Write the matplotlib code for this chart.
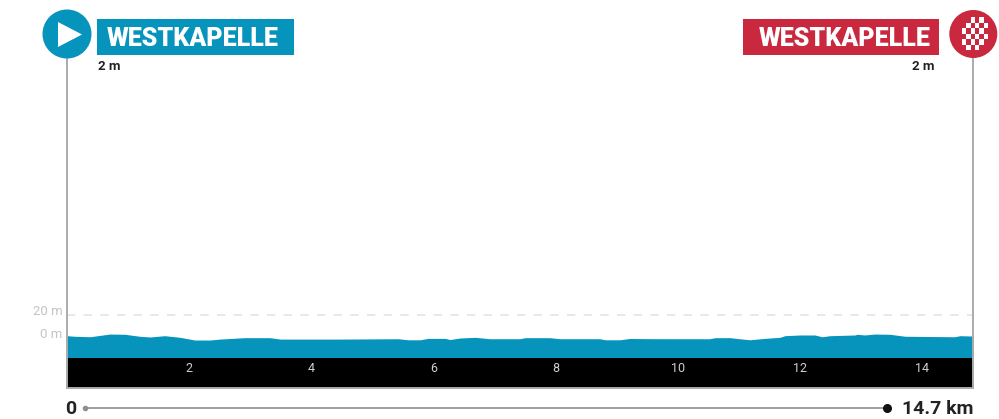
import matplotlib
matplotlib.use("Agg")
import matplotlib.pyplot as plt
from matplotlib.patches import Circle, Polygon, Rectangle
from matplotlib.transforms import ScaledTranslation

km = [0, .13, .38, .70, .95, 1.19, 1.36, 1.60, 1.85, 2.09, 2.34, 2.50, 2.91, 3.32, 3.49, 4.47,
      5.42, 5.58, 5.78, 5.91, 6.19, 6.27, 6.43, 6.68, 6.92, 7.41, 7.50, 7.90, 8.07, 8.72, 8.81,
      9.05, 9.21, 9.71, 10.52, 10.61, 10.85, 11.10, 11.18, 11.42, 11.67, 11.75, 12.0, 12.24,
      12.36, 12.49, 12.90, 12.93, 13.06, 13.22, 13.47, 13.72, 14.53, 14.62, 14.83]
elevation = [2.0, 1.5, 1.1, 3.4, 3.2, 1.5, .9, 2.0, .6, -1.7, -1.7, -.9, .3, .3, -.9, -.9,
             -.6, -1.5, -1.5, -.3, -.3, -1.3, 0, .6, -.6, -.6, .3, .3, -.6, -.6, -1.5,
             -1.5, -.4, -.6, -.6, .3, .3, -1.1, -1.5, -.3, .6, 2, 2.6, 2.6,
             1.1, 2, 2.6, 3.2, 2.6, 3.4, 3.2, 1.5, 1.1, 2, 1.7]
km_ticks = [2, 4, 6, 8, 10, 12, 14]
elev_ticks = [0, 20]
elev_labels = ["0 m", "20 m"]
start_name = "WESTKAPELLE"
finish_name = "WESTKAPELLE"
start_elev = "2 m"
finish_elev = "2 m"
total_label = "14.7 km"

BLUE = "#0794BC"
RED = "#C9283E"
GREY = "#ABABAB"
plt.rcParams["font.family"] = ["Roboto", "DejaVu Sans"]

W, H = 999, 419
fig = plt.figure(figsize=(W / 100, H / 100), dpi=100, facecolor="white")
ax = fig.add_axes([67 / W, 1 - 388 / H, (973 - 67) / W, (388 - 58) / H])
XMAX, YMIN, YMAX, BASE = 14.83, -42.7, 239.3, -17
ax.set_xlim(0, XMAX)
ax.set_ylim(YMIN, YMAX)
ax.fill_between(km, BASE, elevation, color=BLUE, lw=0, zorder=2)
ax.fill_between([0, XMAX], YMIN, BASE, color="black", lw=0, zorder=3)
ax.axhline(20, color="#E4E4E4", lw=1.2, dashes=(5, 5), zorder=1)
ax.spines["top"].set_visible(False)
for s in ("left", "right", "bottom"):
    ax.spines[s].set_color(GREY)
    ax.spines[s].set_linewidth(1.4)
    ax.spines[s].set_zorder(4)
ax.set_xticks(km_ticks, [str(k) for k in km_ticks])
ax.xaxis.set_zorder(6)
ax.tick_params(axis="x", length=0, pad=-19, labelsize=9, labelcolor="#D0D0D0")
ax.set_yticks(elev_ticks, elev_labels)
ax.tick_params(axis="y", length=0, pad=3, labelsize=9.5, labelcolor="#C4C4C4")
shift = ScaledTranslation(0, -3 / 100, fig.dpi_scale_trans)
for lab in ax.get_yticklabels():
    lab.set_va("bottom")
    lab.set_transform(lab.get_transform() + shift)

# header and footer furniture, in pixel coordinates
ov = fig.add_axes([0, 0, 1, 1], facecolor="none")
ov.set_xlim(0, W)
ov.set_ylim(H, 0)
ov.axis("off")
ov.add_patch(Circle((67, 34), 24.5, color=BLUE, lw=0))
ov.add_patch(Polygon([(58, 22), (58, 47), (82, 34.5)], color="white", lw=0))
ov.add_patch(Rectangle((97, 19.5), 197, 35.5, color=BLUE, lw=0))
ov.text(192.5, 38.5, start_name, color="white", fontsize=18, fontweight="black", ha="center", va="center")
ov.text(98, 66, start_elev, color="#222222", fontsize=9.5, fontweight="bold", ha="left", va="center")

ov.add_patch(Circle((973.3, 34), 24, color=RED, lw=0))
pitch_x, pitch_y = 4.3, 5.5
for r in range(6):
    for c in range(6):
        corner = r in (0, 5) and c in (0, 5)
        if (r + c) % 2 == 0 and not corner:
            ov.add_patch(Rectangle((962 + c * pitch_x, 17.5 + r * pitch_y), pitch_x, pitch_y, color="white", lw=0))
ov.add_patch(Rectangle((743, 19.5), 196, 35.5, color=RED, lw=0))
ov.text(844.5, 38.5, finish_name, color="white", fontsize=18, fontweight="black", ha="center", va="center")
ov.text(935, 66, finish_elev, color="#222222", fontsize=9.5, fontweight="bold", ha="right", va="center")

ov.plot([85, 887], [408, 408], color="#8E8E8E", lw=1.2, solid_capstyle="butt")
ov.plot([85], [408], marker="o", ms=3, color="#8E8E8E", lw=0)
ov.plot([887], [408], marker="o", ms=5.5, color="#111111", lw=0)
ov.text(71, 409, "0", color="#222222", fontsize=14, fontweight="bold", ha="center", va="center")
ov.text(973, 409, total_label, color="#222222", fontsize=14, fontweight="bold", ha="right", va="center")

fig.savefig("out.png", dpi=100)
